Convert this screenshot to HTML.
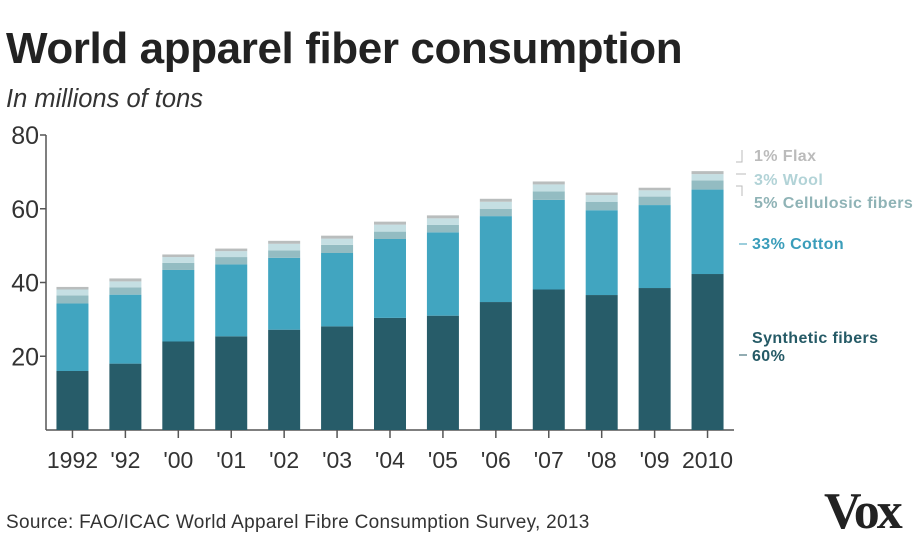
<!DOCTYPE html>
<html><head><meta charset="utf-8"><style>
body{margin:0;background:#fff;width:920px;height:535px;overflow:hidden;font-family:"Liberation Sans",sans-serif}
</style></head><body>
<svg width="920" height="535" xmlns="http://www.w3.org/2000/svg">
<text x="6" y="63" font-size="44" font-weight="bold" fill="#222" letter-spacing="-0.4">World apparel fiber consumption</text>
<text x="6" y="107" font-size="25.5" font-style="italic" fill="#333">In millions of tons</text>
<g id="axes"></g><g id="bars"></g>
<g font-weight="bold" font-size="16" letter-spacing="0.4">
<path d="M742 150 V162 H736 M736 174 H746 M736 186 H742 V196" stroke="#bbb" fill="none"/>
<text x="754" y="161" fill="#bbb">1% Flax</text>
<text x="754" y="185" fill="#b2d3d7">3% Wool</text>
<text x="754" y="208" fill="#8fb3b6">5% Cellulosic fibers</text>
<line x1="739" y1="244" x2="747" y2="244" stroke="#3a9dba"/>
<text x="752" y="249" fill="#3a9dba">33% Cotton</text>
<text x="752" y="343" fill="#255a66">Synthetic fibers</text>
<line x1="739" y1="355" x2="747" y2="355" stroke="#255a66"/>
<text x="752" y="361" fill="#255a66">60%</text>
</g>
<text x="6" y="528" font-size="19" fill="#333" letter-spacing="0.3">Source:  FAO/ICAC World Apparel Fibre Consumption Survey, 2013</text>
<text x="824" y="528" font-size="52" font-weight="bold" font-family="Liberation Serif,serif" fill="#222" letter-spacing="-3">Vox</text>
</svg>
<script>
const categories=["1992","'92","'00","'01","'02","'03","'04","'05","'06","'07","'08","'09","2010"];
const synthetic=[16,18,24,25.4,27.2,28.1,30.4,31,34.7,38.1,36.6,38.5,42.3];
const cotton=[18.3,18.7,19.4,19.5,19.5,19.9,21.4,22.6,23.3,24.3,23,22.5,22.9];
const cellulosic=[2.2,2,1.9,2,2,2.2,2,2,2,2.3,2.3,2.3,2.5];
const wool=[1.6,1.6,1.6,1.6,1.8,1.7,1.9,1.8,1.9,1.9,1.8,1.7,1.7];
const flax=[0.7,0.8,0.7,0.7,0.8,0.8,0.8,0.8,0.8,0.8,0.7,0.7,0.8];
const yTicks=[20,40,60,80];
const series=[synthetic,cotton,cellulosic,wool,flax];
const colors=["#275c69","#41a5c0","#93bcc2","#c5dfe3","#b9bdbd"];
const names=["synthetic","cotton","cellulosic","wool","flax"];
const NS="http://www.w3.org/2000/svg";
const x0=46,x1=734,yBase=430,yTop=135;
const y=v=>yBase-v*(yBase-yTop)/80;
const band=(x1-x0)/categories.length;
const xc=i=>x0+band*(i+0.5);
const bw=32;
function mk(t,a,p){const e=document.createElementNS(NS,t);for(const k in a)e.setAttribute(k,a[k]);p.appendChild(e);return e;}
const ax=document.getElementById('axes'),bg=document.getElementById('bars');
let l=mk('line',{x1:x0,y1:yTop,x2:x0,y2:yBase,stroke:'#555','stroke-width':1.5},ax);


l=mk('line',{x1:x0,y1:yBase,x2:x1,y2:yBase,stroke:'#555','stroke-width':1.5},ax);


yTicks.forEach(v=>{
 const t=mk('line',{x1:x0-6,y1:y(v),x2:x0,y2:y(v),stroke:'#555','stroke-width':1.5},ax);
 
 
 const tx=mk('text',{x:x0-7,y:y(v)+9,'text-anchor':'end','font-size':25,fill:'#333'},ax);
 tx.textContent=v;
 
 
});
categories.forEach((c,i)=>{
 const t=mk('line',{x1:xc(i),y1:yBase,x2:xc(i),y2:yBase+8,stroke:'#555','stroke-width':1.5},ax);
 
 
 const tx=mk('text',{x:xc(i),y:468,'text-anchor':'middle','font-size':23,fill:'#333'},ax);
 tx.textContent=c;
 
 
 let cum=0;
 series.forEach((s,k)=>{
  const r=mk('rect',{x:xc(i)-bw/2,y:y(cum+s[i]),width:bw,height:y(cum)-y(cum+s[i]),fill:colors[k]},bg);
  
  
  cum+=s[i];
 });
});
</script>
</body></html>
